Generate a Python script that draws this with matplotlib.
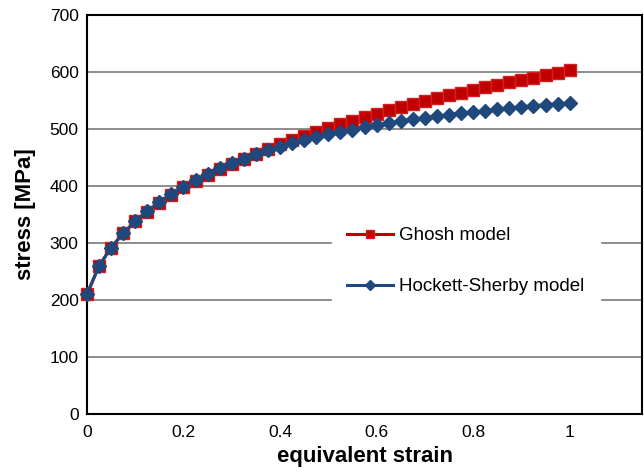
import numpy as np
import matplotlib.pyplot as plt

plt.rcParams['font.family'] = ['Liberation Sans', 'DejaVu Sans']

strain = np.arange(41) * 0.025

ghosh = [210, 260, 292, 317, 338, 355, 371, 385, 398, 409,
         420, 430, 439, 448, 457, 465, 473, 481, 488, 495,
         502, 509, 515, 521, 527, 533, 538, 544, 549, 554,
         559, 564, 568, 573, 577, 582, 586, 590, 595, 599, 603]

hockettSherby = [210, 259, 292, 317, 338, 356, 372, 386, 398, 410,
                 421, 431, 440, 448, 456, 463, 469, 475, 481, 486,
                 491, 495, 499, 503, 507, 510, 514, 517, 520, 523,
                 525, 528, 530, 532, 535, 537, 539, 541, 543, 544, 546]

xTicks = [0, 0.2, 0.4, 0.6, 0.8, 1]
xTickLabels = ['0', '0.2', '0.4', '0.6', '0.8', '1']
yTicks = [0, 100, 200, 300, 400, 500, 600, 700]

fig = plt.figure(figsize=(6.44, 4.72), dpi=100)
ax = fig.add_axes([0.135, 0.123, 0.862, 0.845])

ax.plot(strain, ghosh, color='#C00000', lw=2.2, marker='s', ms=8.5,
        mec='#D02020', label='Ghosh model', zorder=3, clip_on=False)
ax.plot(strain, hockettSherby, color='#1F497D', lw=2.2, marker='D', ms=7.5,
        label='Hockett-Sherby model', zorder=4, clip_on=False)

ax.set_xlim(0, 1.15)
ax.set_ylim(0, 700)
ax.set_xticks(xTicks)
ax.set_xticklabels(xTickLabels)
ax.set_yticks(yTicks)
ax.tick_params(labelsize=12.5, length=0)
ax.tick_params(axis='x', pad=8)
ax.tick_params(axis='y', pad=6)
ax.grid(axis='y', color='#8c8c8c', lw=1.4)
ax.set_axisbelow(True)
for spine in ax.spines.values():
    spine.set_color('black')
    spine.set_linewidth(1.5)

ax.set_xlabel('equivalent strain', fontsize=16, fontweight='bold', labelpad=4)
ax.set_ylabel('stress [MPa]', fontsize=16, fontweight='bold', labelpad=10)

leg = ax.legend(loc='center left', bbox_to_anchor=(0.441, 0.383), frameon=True,
                fontsize=13.5, labelspacing=1.8, handlelength=2.45,
                handletextpad=0.35, markerscale=0.7, borderpad=0.8,
                borderaxespad=0, fancybox=False)
leg.get_frame().set_edgecolor('white')
leg.get_frame().set_facecolor('white')
leg.get_frame().set_alpha(1)

fig.savefig('out.png', dpi=100)
